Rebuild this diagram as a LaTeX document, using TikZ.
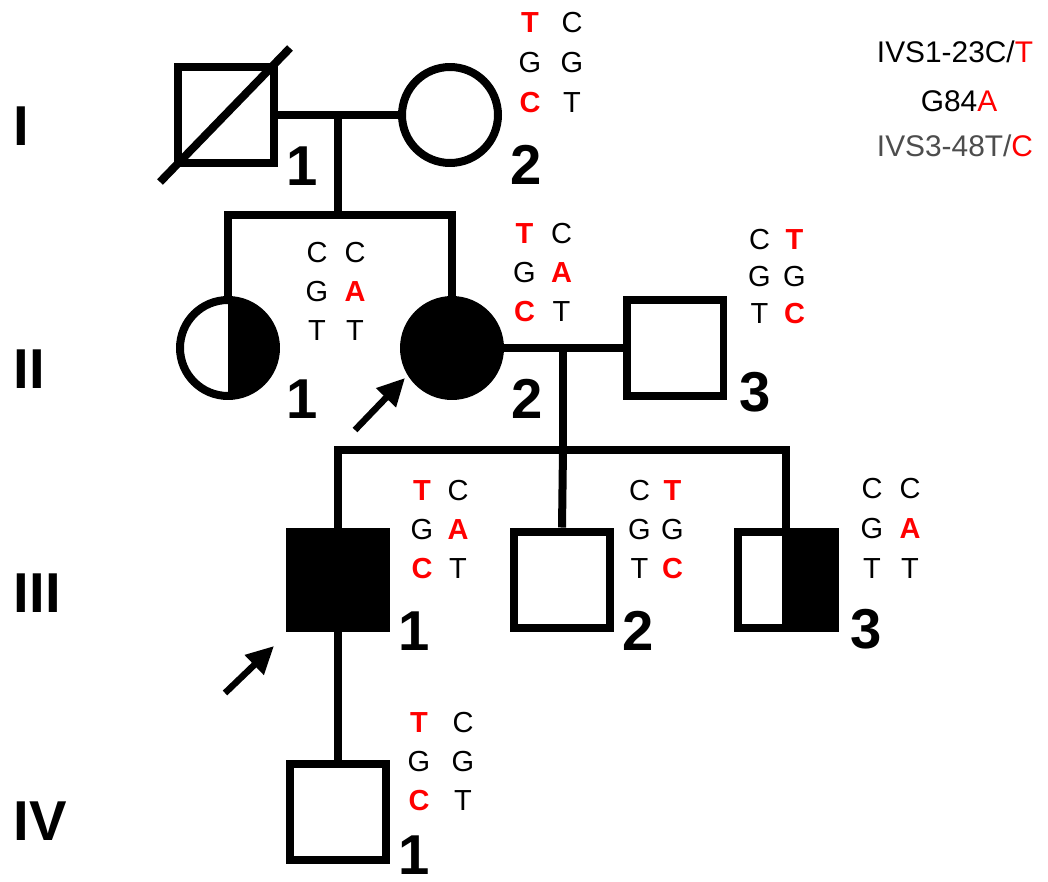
\documentclass[tikz,border=0pt]{standalone}
\usepackage{fontspec}
\setmainfont{Liberation Sans}
\usetikzlibrary{arrows.meta,matrix}
\definecolor{gred}{RGB}{255,0,0}
\definecolor{ggray}{RGB}{77,77,77}
\newcommand\rb[1]{\textcolor{gred}{\bfseries #1}}
\begin{document}
\begin{tikzpicture}[x=0.02cm,y=-0.02cm, line width=0.16cm,
  sq/.style={draw, rectangle, minimum size=1.94cm, inner sep=0pt},
  ci/.style={draw, circle, minimum size=1.92cm, inner sep=0pt},
  gen/.style={font=\fontsize{32}{32}\selectfont\bfseries, inner sep=0pt, anchor=base west},
  num/.style={font=\fontsize{32}{32}\selectfont\bfseries, inner sep=0pt, anchor=base},
  geno/.style 2 args={matrix of nodes, inner sep=0pt, column sep=#1, row sep=#2,
     nodes={font=\fontsize{16.5}{16.5}\selectfont, text width=0.5cm, align=center,
            text height=0.42cm, text depth=0pt, inner sep=0pt}},
  leg/.style={font=\fontsize{17}{17}\selectfont, inner sep=0pt, anchor=base},
  pointer/.style={line width=0.13cm, -{Triangle[length=0.55cm,width=0.52cm]}}
]
\fill[white] (0,0) rectangle (1048,882);
\path[use as bounding box] (0,0) rectangle (1048,882);

% Generation I
\node[sq] (I1) at (226,115) {};
\node[ci] (I2) at (450,115) {};
\coordinate (dIa) at (160,182);
\coordinate (dIb) at (290,48);
\draw (dIa) -- (dIb);
\draw (I1.east) -- (I2.west);
\coordinate (mI) at (338,115);
\coordinate (sII) at (338,215);
\draw (mI) -- (sII);

% Generation II
\begin{scope}
  \clip (228,290) rectangle (290,410);
  \fill (228,348) circle[radius=0.96cm];
\end{scope}
\node[ci] (II1) at (228,348) {};
\node[ci, fill=black] (II2) at (452,348) {};
\node[sq] (II3) at (675,348) {};
\draw (II1.north) -- (II1.north |- sII) -- (II2.north |- sII) -- (II2.north);
\draw (II2.east) -- (II3.west);
\coordinate (mII) at (563,348);
\coordinate (sIII) at (563,450);
\draw (mII) -- (sIII);

% Generation III
\node[sq, fill=black] (III1) at (338,580) {};
\node[sq] (III2) at (562,580) {};
\fill (782,531) rectangle (835,629);
\node[sq] (III3) at (786,580) {};
\draw (III1.north) -- (III1.north |- sIII) -- (III3.north |- sIII) -- (III3.north);
\draw (sIII) -- (III2.north);

% Generation IV
\node[sq] (IV1) at (338,812) {};
\draw (III1.south) -- (IV1.north);

% Pointers
\coordinate (p1s) at (355,430);
\coordinate (p1e) at (405,378);
\draw[pointer] (p1s) -- (p1e);
\coordinate (p2s) at (225,693);
\coordinate (p2e) at (274,646);
\draw[pointer] (p2s) -- (p2e);

% Generation labels
\node[gen] (gI) at (10,146) {I};
\node[gen] (gII) at (10,388) {II};
\node[gen] (gIII) at (10,612) {III};
\node[gen] (gIV) at (10,840) {IV};

% Individual numbers
\node[num] (nI1) at (302,185) {1};
\node[num] (nI2) at (526,184) {2};
\node[num] (nII1) at (302,418) {1};
\node[num] (nII2) at (527,418) {2};
\node[num] (nII3) at (755,411) {3};
\node[num] (nIII1) at (414,650) {1};
\node[num] (nIII2) at (638,650) {2};
\node[num] (nIII3) at (866,648) {3};
\node[num] (nIV1) at (414,874) {1};

% Genotypes
\matrix (gtI2) [geno={0.34cm}{0.38cm}] at (551,62) {\rb{T} & C \\ G & G \\ \rb{C} & T \\};
\matrix (gtII1) [geno={0.26cm}{0.36cm}] at (336,291) {C & C \\ G & \rb{A} \\ T & T \\};
\matrix (gtII2) [geno={0.24cm}{0.37cm}] at (543,272) {\rb{T} & C \\ G & \rb{A} \\ \rb{C} & T \\};
\matrix (gtII3) [geno={0.20cm}{0.33cm}] at (777,276) {C & \rb{T} \\ G & G \\ T & \rb{C} \\};
\matrix (gtIII1) [geno={0.22cm}{0.36cm}] at (440,529) {\rb{T} & C \\ G & \rb{A} \\ \rb{C} & T \\};
\matrix (gtIII2) [geno={0.16cm}{0.36cm}] at (656,529) {C & \rb{T} \\ G & G \\ T & \rb{C} \\};
\matrix (gtIII3) [geno={0.26cm}{0.38cm}] at (891,528) {C & C \\ G & \rb{A} \\ T & T \\};
\matrix (gtIV1) [geno={0.38cm}{0.36cm}] at (441,761) {\rb{T} & C \\ G & G \\ \rb{C} & T \\};

% Legend
\node[leg] (L1) at (955,63) {IVS1-23C/\textcolor{gred}{T}};
\node[leg] (L2) at (959,112) {G84\textcolor{gred}{A}};
\node[leg, text=ggray] (L3) at (955,156) {IVS3-48T/\textcolor{gred}{C}};
\end{tikzpicture}
\end{document}
